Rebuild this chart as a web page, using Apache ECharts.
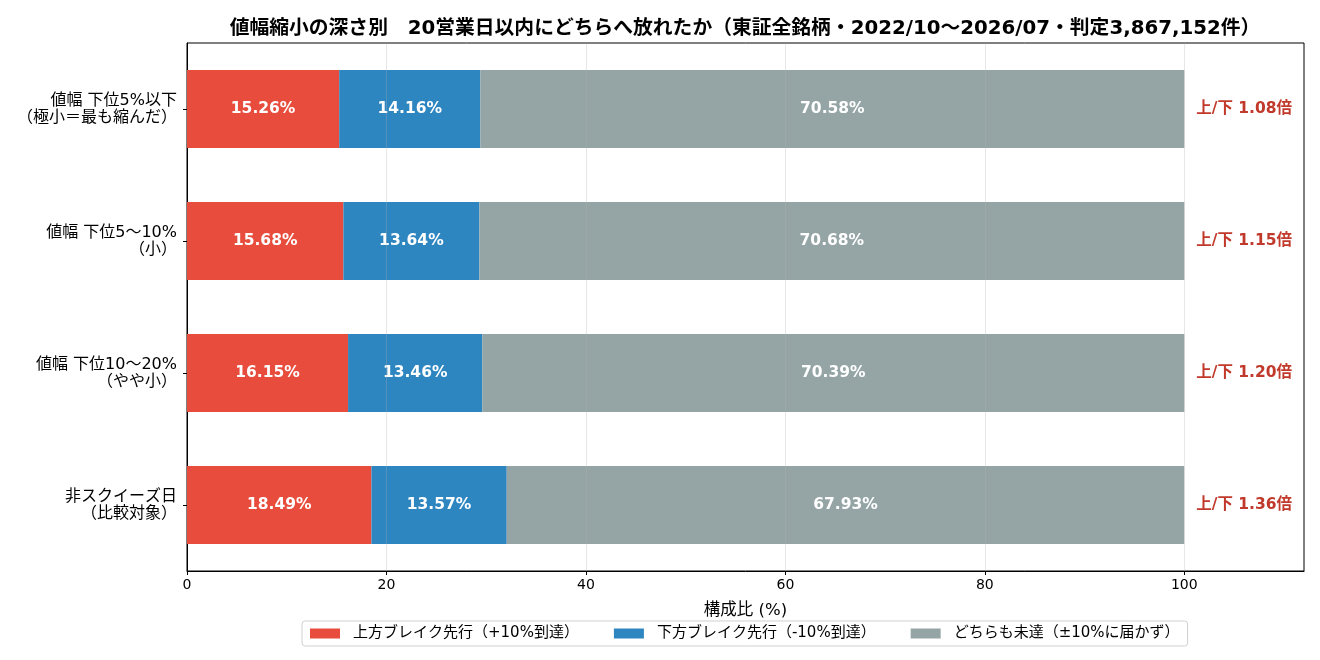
<!DOCTYPE html>
<html><head><meta charset="utf-8">
<script src="https://cdn.jsdelivr.net/npm/echarts@6/dist/echarts.min.js"></script>
<style>html,body{margin:0;padding:0;background:#fff}#c{width:1320px;height:660px}</style>
</head><body><div id="c"></div>
<script>
const categories = ['値幅 下位5%以下\n（極小＝最も縮んだ）', '値幅 下位5〜10%\n（小）', '値幅 下位10〜20%\n（やや小）', '非スクイーズ日\n（比較対象）'];
const upValues = [15.26, 15.68, 16.15, 18.49];
const downValues = [14.16, 13.64, 13.46, 13.57];
const noneValues = [70.58, 70.68, 70.39, 67.93];
const ratioLabels = ['上/下 1.08倍', '上/下 1.15倍', '上/下 1.20倍', '上/下 1.36倍'];
const seriesNames = ['上方ブレイク先行（+10%到達）', '下方ブレイク先行（-10%到達）', 'どちらも未達（±10%に届かず）'];
const xTicks = [0, 20, 40, 60, 80, 100];
const gridValues = [20, 40, 60, 80, 100];

const FONT = '"DejaVu Sans", "Noto Sans CJK JP", sans-serif';
const chart = echarts.init(document.getElementById('c'));
const barLabel = {show: true, position: 'inside', color: '#fff', fontWeight: 'bold', fontSize: 15.5, fontFamily: FONT, formatter: p => p.value.toFixed(2) + '%'};
chart.setOption({
  animation: false,
  textStyle: {fontFamily: FONT},
  title: {text: '値幅縮小の深さ別　20営業日以内にどちらへ放れたか（東証全銘柄・2022/10〜2026/07・判定3,867,152件）', left: 740, textAlign: 'center', top: 14,
    textStyle: {fontSize: 19.8, fontWeight: 'bold', color: '#000', fontFamily: FONT}},
  grid: {left: 187, right: 16, top: 43, bottom: 89, show: true, borderColor: '#000', borderWidth: 1},
  legend: {bottom: 14, left: 302, itemWidth: 30, itemHeight: 10, itemGap: 35, icon: 'rect',
    padding: [5, 8], borderColor: '#d0d0d0', borderWidth: 1, borderRadius: 3,
    textStyle: {fontSize: 15, color: '#000', fontFamily: FONT, padding: [0, 0, 0, 8]}, data: seriesNames},
  xAxis: {type: 'value', min: 0, max: 112, interval: 20, name: '構成比 (%)', nameLocation: 'middle', nameGap: 31,
    nameTextStyle: {fontSize: 16.5, color: '#000', fontFamily: FONT},
    axisLine: {show: true, lineStyle: {color: '#000'}}, axisTick: {show: true, length: 4, lineStyle: {color: '#000'}, customValues: xTicks},
    axisLabel: {fontSize: 14, color: '#000', margin: 7, customValues: xTicks, formatter: v => String(v)},
    splitLine: {show: false}},
  yAxis: {type: 'category', data: categories, inverse: true,
    axisLine: {show: true, lineStyle: {color: '#000'}}, axisTick: {show: true, alignWithLabel: true, length: 4, lineStyle: {color: '#000'}},
    axisLabel: {fontSize: 16, color: '#000', lineHeight: 17, align: 'right', margin: 10}},
  series: [
    {name: seriesNames[0], type: 'bar', stack: 's', data: upValues, barWidth: 78, itemStyle: {color: '#e74c3c'}, label: barLabel},
    {name: seriesNames[1], type: 'bar', stack: 's', data: downValues, barWidth: 78, itemStyle: {color: '#2e86c1'}, label: barLabel},
    {name: seriesNames[2], type: 'bar', stack: 's', data: noneValues, barWidth: 78, itemStyle: {color: '#95a5a6'}, label: barLabel},
    {name: 'ratio', type: 'scatter', symbolSize: 0, z: 3, itemStyle: {opacity: 1}, data: ratioLabels.map((t, i) => [106, i]),
      label: {show: true, position: 'inside', color: '#c0392b', fontWeight: 'bold', fontSize: 15.5, fontFamily: FONT, formatter: p => ratioLabels[p.dataIndex]},
      markLine: {silent: true, symbol: 'none', label: {show: false},
        lineStyle: {color: '#b0b0b0', opacity: 0.3, width: 1, type: 'solid'},
        data: gridValues.map(v => ({xAxis: v}))}}
  ]
});
</script></body></html>
